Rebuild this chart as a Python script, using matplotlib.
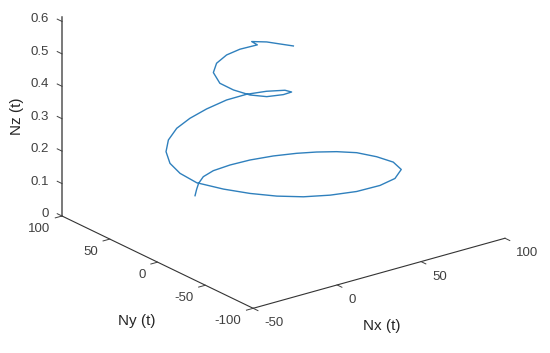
import matplotlib
matplotlib.use("Agg")
import matplotlib.pyplot as plt
from mpl_toolkits.mplot3d import proj3d

plt.rcParams['font.family'] = ['Liberation Sans', 'DejaVu Sans']

# curve
nx = [2.2, 6.5, 10.7, 16.4, 23.6, 33.1, 43.3, 54, 63.6, 70.9,
      77.5, 83, 86.1, 86.9, 82.9, 72.2, 59.8, 45, 30.8, 18.2,
      7.4, -1.9, -9.8, -16.2, -17.7, -16.2, -11.1, -3.6, 4.9, 13.9,
      23.7, 34.5, 42.7, 48.8, 54, 52.6, 44.9, 34.5, 26.9, 20.8,
      17.1, 19.2, 23.9, 30.4, 36.1, 41, 36.4, 36.7, 36.3, 36]
ny = [52.5, 58.4, 63.7, 68.8, 71, 70.2, 67.2, 61.6, 54.1, 46,
      36.6, 25.3, 9.9, -6.1, -21.5, -33.7, -39.8, -41.4, -38.5, -32.8,
      -23.9, -12.2, 1.7, 18.4, 33.2, 46.4, 59.5, 70.2, 76.4, 78.4,
      78.2, 76.2, 69.7, 59.5, 49.4, 40, 35.1, 34.2, 38.5, 45,
      52.7, 63.2, 68.1, 69, 65.1, 55.5, 53.3, 38.1, 23.6, 9]
nz = [.055, .06, .065, .07, .075, .08, .085, .09, .095, .10,
      .105, .11, .115, .12, .125, .13, .135, .14, .145, .15,
      .155, .16, .165, .17, .18, .19, .20, .21, .225, .24,
      .255, .27, .285, .30, .31, .32, .33, .34, .35, .365,
      .38, .395, .41, .425, .44, .46, .48, .50, .515, .53]

x_ticks = [-50, 0, 50, 100]
y_ticks = [-100, -50, 0, 50, 100]
z_ticks = [0, 0.1, 0.2, 0.3, 0.4, 0.5, 0.6]
z_labels = ['0', '0.1', '0.2', '0.3', '0.4', '0.5', '0.6']

W, H = 550, 353
fig = plt.figure(figsize=(W / 100, H / 100), dpi=100)
ax = fig.add_axes([0, 0, 1, 1], projection='3d', proj_type='ortho')
ax.set_axis_off()
ax.view_init(elev=21.5, azim=-127.2)
ax.set_box_aspect((316, 316, 209))
ax.set_xlim(-50, 100, view_margin=0)
ax.set_ylim(-100, 100, view_margin=0)
ax.set_zlim(0, 0.6, view_margin=0)


def to_2d(x, y, z):
    px, py, _ = proj3d.proj_transform(x, y, z, ax.get_proj())
    return px, py


# line the box up with the corners of the original
ax.apply_aspect()
a = ax.transData.transform(to_2d(-50, 100, 0))
c = ax.transData.transform(to_2d(100, -100, 0))
s0 = ax.get_position().height * H
l0 = ax.get_position().x0 * W
f = (505 - 62) / (c[0] - a[0])
s = s0 * f
left = 62 - (a[0] - l0) * f
bottom = (H - 216) - a[1] * f
ax.set_position([left / W, bottom / H, s / W, s / H])
ax.apply_aspect()

ink = '#404040'
ax.plot(nx, ny, nz, color='#2f80bd', lw=1.0)

# axis lines
ax.plot([-50, -50], [100, 100], [0, 0.615], color='#555555', lw=1.1)
ax.plot([-50, -50], [-100, 100], [0, 0], color='#333333', lw=0.8)
ax.plot([-50, 100], [-100, -100], [0, 0], color='#333333', lw=0.8)

# tick marks and labels
for v, lab in zip(z_ticks, z_labels):
    ax.plot([-50, -50], [100, 105], [v, v], color=ink, lw=0.7)
    ax.annotate(lab, to_2d(-50, 100, v), xytext=(-13, 2), textcoords='offset pixels',
                ha='right', va='center', fontsize=9.5, color=ink, annotation_clip=False)
for v in y_ticks:
    ax.plot([-50, -54], [v, v], [0, 0], color=ink, lw=0.7)
    ax.annotate(str(v), to_2d(-50, v, 0), xytext=(-12, -13), textcoords='offset pixels',
                ha='right', va='center', fontsize=9.5, color=ink, annotation_clip=False)
for v in x_ticks:
    ax.plot([v, v], [-100, -105], [0, 0], color=ink, lw=0.7)
    ax.annotate(str(v), to_2d(v, -100, 0), xytext=(11, -15), textcoords='offset pixels',
                ha='left', va='center', fontsize=9.5, color=ink, annotation_clip=False)

fig.text(137 / W, 1 - 321 / H, 'Ny (t)', ha='center', va='center', fontsize=11, color='#262626')
fig.text(382 / W, 1 - 326 / H, 'Nx (t)', ha='center', va='center', fontsize=11, color='#262626')
fig.text(17 / W, 1 - 116 / H, 'Nz (t)', ha='center', va='center', rotation=90, fontsize=11, color='#262626')

fig.savefig('out.png', dpi=100)
